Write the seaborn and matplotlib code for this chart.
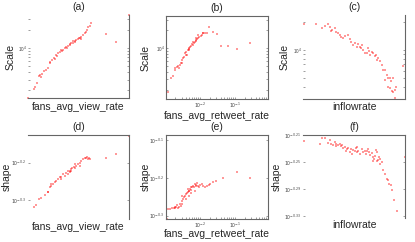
import pandas as pd
import matplotlib
matplotlib.use("Agg")
import matplotlib.pyplot as plt
import seaborn as sns
from matplotlib.ticker import NullFormatter, NullLocator, FixedLocator, FixedFormatter

# ---- data ----
a_view_rate = [0.0, 0.0056, 0.0073, 0.0089, 0.0109, 0.0122, 0.0142, 0.0182, 0.0198, 0.0215,
               0.0221, 0.0241, 0.0264, 0.0281, 0.0300, 0.0314, 0.0330, 0.0347, 0.0363, 0.0380,
               0.0396, 0.0413, 0.0429, 0.0446, 0.0462, 0.0479, 0.0495, 0.0512, 0.0528, 0.0545,
               0.0561, 0.0571, 0.0584, 0.0594, 0.0611, 0.0627, 0.0769, 0.0868, 0.1,
               0.0335, 0.0390, 0.0420, 0.0450, 0.0470, 0.0500, 0.0520, 0.0255, 0.0290, 0.0160, 0.0125]
a_scale = [1480, 2084, 2249, 2620, 3467, 3597, 3741, 4356, 4645, 5623,
           5984, 6222, 6546, 7727, 8227, 8770, 9333, 9333, 9954, 10616,
           11020, 11300, 12050, 12360, 13340, 13680, 14030, 14580, 15520, 16560,
           17620, 18790, 20040, 22180, 23330, 26490, 16980, 12830, 35480,
           8900, 10200, 11700, 12900, 12700, 14800, 14200, 6900, 7300, 4100, 3300]

b_retweet_rate = [0.00126, 0.00151, 0.00166, 0.00191, 0.00200, 0.00224, 0.00240, 0.00263, 0.00282, 0.00316,
                  0.00331, 0.00355, 0.00380, 0.00398, 0.00417, 0.00447, 0.00479, 0.00501, 0.00537, 0.00562,
                  0.00603, 0.00631, 0.00661, 0.00708, 0.00759, 0.00794, 0.00832, 0.00891, 0.00955, 0.0105,
                  0.0112, 0.0120, 0.0126, 0.0141, 0.0158, 0.0178, 0.0240, 0.0316, 0.0417, 0.0661,
                  0.120, 0.282, 0.00501, 0.00631, 0.00759, 0.00891, 0.00398, 0.00316, 0.00251]
b_scale = [1824, 3162, 3459, 4246, 4642, 4945, 5078, 5275, 5623, 6390,
           6813, 7263, 8254, 8799, 7743, 9380, 9624, 10260, 10660, 10940,
           11810, 11370, 12430, 12920, 13430, 13770, 14130, 14680, 15640, 16060,
           16680, 17780, 18240, 17780, 17780, 22390, 18970, 17340, 10940, 11080,
           9744, 12110, 9380, 12920, 14680, 16680, 7743, 5623, 4642]

c_inflow = [0.007, 0.131, 0.190, 0.213, 0.246, 0.262, 0.279, 0.289, 0.311, 0.328,
            0.344, 0.361, 0.377, 0.393, 0.410, 0.443, 0.459, 0.475, 0.492, 0.508,
            0.525, 0.541, 0.557, 0.564, 0.574, 0.590, 0.607, 0.623, 0.639, 0.646,
            0.656, 0.672, 0.689, 0.705, 0.715, 0.721, 0.738, 0.754, 0.770, 0.787,
            0.803, 0.820, 0.836, 0.852, 0.859, 0.879, 0.803, 0.836, 0.852, 0.869,
            0.885, 0.902, 0.911, 0.902, 0.984]
c_scale = [18920, 18920, 16980, 17990, 18920, 17700, 16070, 16330, 16980, 15670,
           15030, 14450, 13870, 13310, 14090, 14450, 12980, 12270, 11300, 11780,
           10850, 11490, 10850, 10410, 11300, 10000, 9220, 9370, 10410, 9840,
           8850, 9600, 9220, 8500, 8850, 7830, 8150, 7520, 6920, 6120,
           6030, 5420, 5000, 5000, 4610, 5000, 4800, 4010, 3910, 3610,
           3520, 3750, 4010, 3060, 6650]

d_view_rate = [0.0056, 0.0076, 0.0109, 0.0132, 0.0165, 0.0198, 0.0215, 0.0231, 0.0248, 0.0264,
               0.0281, 0.0297, 0.0314, 0.0330, 0.0347, 0.0363, 0.0380, 0.0396, 0.0413, 0.0419,
               0.0429, 0.0439, 0.0452, 0.0462, 0.0479, 0.0495, 0.0512, 0.0528, 0.0545, 0.0561,
               0.0571, 0.0584, 0.0594, 0.0604, 0.0617, 0.0769, 0.0868, 0.1,
               0.0198, 0.0231, 0.0330, 0.0396, 0.0429, 0.0462, 0.0512]
d_shape = [0.4813, 0.4873, 0.5043, 0.5074, 0.5178, 0.5274, 0.5415, 0.5470, 0.5526, 0.5582,
           0.5641, 0.5698, 0.5756, 0.5781, 0.5876, 0.5816, 0.5899, 0.5876, 0.5936, 0.5997,
           0.6058, 0.6119, 0.6144, 0.6245, 0.6183, 0.6270, 0.6310, 0.6374, 0.6439, 0.6479,
           0.6506, 0.6531, 0.6439, 0.6479, 0.6439, 0.6506, 0.6666, 0.7424,
           0.5252, 0.5526, 0.5698, 0.5997, 0.5997, 0.6119, 0.6183]

e_retweet_rate = [0.00126, 0.00141, 0.00158, 0.00178, 0.00191, 0.00200, 0.00209, 0.00224, 0.00240, 0.00251,
                  0.00263, 0.00282, 0.00302, 0.00316, 0.00331, 0.00355, 0.00380, 0.00398, 0.00417, 0.00447,
                  0.00479, 0.00501, 0.00525, 0.00562, 0.00562, 0.00603, 0.00631, 0.00661, 0.00708, 0.00759,
                  0.00794, 0.00832, 0.00891, 0.00955, 0.0100, 0.0112, 0.0126, 0.0141, 0.0158, 0.0178,
                  0.0200, 0.0240, 0.0282, 0.0447, 0.120, 0.282, 0.00316, 0.00447, 0.00501, 0.00398,
                  0.00562, 0.00708, 0.00112]
e_shape = [0.5218, 0.5218, 0.5250, 0.5250, 0.5293, 0.5250, 0.5271, 0.5357, 0.5250, 0.5293,
           0.5379, 0.5325, 0.5379, 0.5489, 0.5545, 0.5623, 0.5657, 0.5715, 0.5738, 0.5773,
           0.5808, 0.5832, 0.5891, 0.5855, 0.5951, 0.5975, 0.6011, 0.5951, 0.6072, 0.6011,
           0.6048, 0.6097, 0.6011, 0.5975, 0.6048, 0.6072, 0.6011, 0.5975, 0.6011, 0.6048,
           0.6072, 0.6134, 0.6171, 0.6296, 0.6557, 0.6296, 0.5657, 0.5891, 0.5657, 0.5545,
           0.5738, 0.5832, 0.4912]

f_inflow = [0.007, 0.164, 0.190, 0.213, 0.246, 0.262, 0.279, 0.295, 0.311, 0.321,
            0.328, 0.344, 0.361, 0.377, 0.387, 0.393, 0.410, 0.420, 0.433, 0.443,
            0.459, 0.475, 0.485, 0.492, 0.508, 0.518, 0.525, 0.531, 0.541, 0.557,
            0.574, 0.590, 0.607, 0.616, 0.623, 0.639, 0.649, 0.656, 0.672, 0.689,
            0.695, 0.705, 0.715, 0.721, 0.728, 0.738, 0.748, 0.754, 0.770, 0.787,
            0.803, 0.820, 0.836, 0.846, 0.859, 0.869, 0.892, 0.925, 1.0, 0.689, 0.754]
f_shape = [0.6042, 0.5988, 0.6109, 0.6095, 0.6007, 0.6056, 0.5988, 0.5960, 0.6029, 0.5942,
           0.5974, 0.5960, 0.5988, 0.5942, 0.5960, 0.5907, 0.5920, 0.5829, 0.5875, 0.5907,
           0.5809, 0.5875, 0.5777, 0.5855, 0.5829, 0.5896, 0.5809, 0.5920, 0.5842, 0.5777,
           0.5875, 0.5809, 0.5842, 0.5777, 0.5829, 0.5875, 0.5809, 0.5764, 0.5791, 0.5715,
           0.5682, 0.5745, 0.5855, 0.5809, 0.5650, 0.5663, 0.5727, 0.5587, 0.5619, 0.5463,
           0.5402, 0.5312, 0.5282, 0.5223, 0.5194, 0.5108, 0.4940, 0.4751, 0.5715, 0.5650, 0.5682]

# tick exponents (labelled ticks only)
rate_exps = [-2, -1]
d_shape_exps = [-0.2, -0.3]
e_shape_exps = [-0.1, -0.2, -0.3]
f_shape_exps = [-0.21, -0.25, -0.29, -0.33]

sns.set_style("white")
plt.rcParams['font.family'] = ['Liberation Sans', 'DejaVu Sans']

W, H = 415, 242
fig = plt.figure(figsize=(W / 100, H / 100), dpi=100)

def rect(x0, y0, x1, y1):
    return [x0 / W, 1 - y1 / H, (x1 - x0) / W, (y1 - y0) / H]

panels = [
    dict(r=rect(28, 15, 129, 98), x=a_view_rate, y=a_scale, xlog=False, xlim=(0, 0.1),
         ylim=(1480, 35480), xl="fans_avg_view_rate", yl="Scale", t="(a)",
         spines=dict(left=False, bottom=True, right=True, top=False), xly=-0.11, yly=-0.17, exps=None),
    dict(r=rect(166, 16, 268, 99), x=b_retweet_rate, y=b_scale, xlog=True, xlim=(0.00107, 0.9),
         ylim=(1413, 34670), xl="fans_avg_retweet_rate", yl="Scale", t="(b)",
         spines=dict(left=True, bottom=True, right=True, top=True), xly=-0.2, yly=-0.2, exps=None),
    dict(r=rect(303, 15, 405, 99), x=c_inflow, y=c_scale, xlog=False, xlim=(0, 1),
         ylim=(2992, 23550), xl="inflowrate", yl="Scale", t="(c)",
         spines=dict(left=False, bottom=True, right=True, top=False), xly=-0.1, yly=-0.18, exps=None),
    dict(r=rect(28, 135, 129, 219), x=d_view_rate, y=d_shape, xlog=False, xlim=(0, 0.1),
         ylim=(0.4457, 0.7475), xl="fans_avg_view_rate", yl="shape", t="(d)",
         spines=dict(left=False, bottom=False, right=True, top=True), xly=-0.1, yly=-0.21, exps=d_shape_exps),
    dict(r=rect(166, 135, 268, 219), x=e_retweet_rate, y=e_shape, xlog=True, xlim=(0.00107, 0.9),
         ylim=(0.4912, 0.8187), xl="fans_avg_retweet_rate", yl="shape", t="(e)",
         spines=dict(left=True, bottom=True, right=True, top=True), xly=-0.18, yly=-0.2, exps=e_shape_exps),
    dict(r=rect(303, 135, 405, 218), x=f_inflow, y=f_shape, xlog=False, xlim=(0, 1),
         ylim=(0.4646, 0.6166), xl="inflowrate", yl="shape", t="(f)",
         spines=dict(left=False, bottom=False, right=True, top=True), xly=-0.08, yly=-0.26, exps=f_shape_exps),
]

for p in panels:
    ax = fig.add_axes(p["r"])
    df = pd.DataFrame({"x": p["x"], "y": p["y"]})
    sns.scatterplot(data=df, x="x", y="y", ax=ax, marker="s", s=4, color="#ff0000",
                    alpha=0.4, linewidth=0, clip_on=False)
    ax.set_yscale("log")
    if p["xlog"]:
        ax.set_xscale("log")
        ax.xaxis.set_major_locator(FixedLocator([10.0 ** e for e in rate_exps]))
        ax.xaxis.set_major_formatter(FixedFormatter(["$10^{%d}$" % e for e in rate_exps]))
        ax.xaxis.set_minor_formatter(NullFormatter())
    else:
        ax.set_xticks([])
    ax.set_xlim(*p["xlim"])
    ax.set_ylim(*p["ylim"])
    if p["exps"] is not None:
        ax.yaxis.set_major_locator(FixedLocator([10 ** e for e in p["exps"]]))
        ax.yaxis.set_major_formatter(FixedFormatter(["$10^{%g}$" % e for e in p["exps"]]))
        ax.yaxis.set_minor_locator(NullLocator())
    else:
        ax.yaxis.set_minor_formatter(NullFormatter())

    for side, vis in p["spines"].items():
        ax.spines[side].set_visible(vis)
        ax.spines[side].set_color("#666666")
        ax.spines[side].set_linewidth(0.8)

    ax.tick_params(which="both", direction="in", length=1.5, width=0.5, color="#777777",
                   labelsize=3.3, labelcolor="#444444", pad=1, left=True, right=True,
                   top=False, bottom=p["xlog"])
    ax.set_xlabel(p["xl"], fontsize=7.5)
    ax.set_ylabel(p["yl"], fontsize=7.5)
    ax.xaxis.label.set_va("center")
    ax.yaxis.label.set_va("center")
    ax.xaxis.set_label_coords(0.5, p["xly"])
    ax.yaxis.set_label_coords(p["yly"], 0.5)
    ax.set_title(p["t"], fontsize=7.5, y=1.1, va="center", pad=0)

fig.savefig("out.png", dpi=100)
